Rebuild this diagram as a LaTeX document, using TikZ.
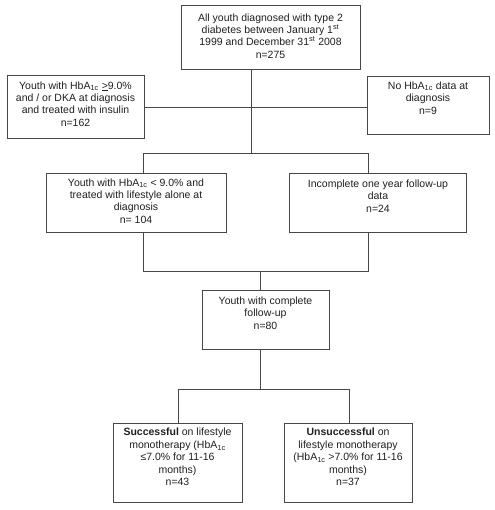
\documentclass[tikz,border=0pt]{standalone}
\usepackage{fontspec}
\setmainfont{Liberation Sans}
\begin{document}
\begin{tikzpicture}[x=1pt,y=-1pt,
  box/.style={draw=black!72,line width=0.9pt,rectangle,inner sep=0pt},
  txt/.style={align=center,inner sep=0pt,text=black!88,font=\fontsize{10.5}{12.4}\selectfont},
  conn/.style={draw=black!72,line width=0.9pt}]
\useasboundingbox (0,0) rectangle (494,510);
% boxes
\node[box,minimum width=179pt,minimum height=64pt] (top) at (270.5,37) {};
\node[txt] (topt) at (270.5,36) {All youth diagnosed with type 2\\diabetes between January 1\textsuperscript{st}\\1999 and December 31\textsuperscript{st} 2008\\n=275};
\node[box,minimum width=137pt,minimum height=63pt] (l1) at (75.5,106.5) {};
\node[txt] (l1t) at (75.5,104) {Youth with HbA\textsubscript{1c} \underline{>}9.0\%\\and / or DKA at diagnosis\\and treated with insulin\\n=162};
\node[box,minimum width=122pt,minimum height=58pt] (r1) at (428,105) {};
\node[txt] (r1t) at (428,98) {No HbA\textsubscript{1c} data at\\diagnosis\\n=9};
\node[box,minimum width=180pt,minimum height=59pt] (ml) at (136,202.5) {};
\node[txt] (mlt) at (136,201) {Youth with HbA\textsubscript{1c} < 9.0\% and\\treated with lifestyle alone at\\diagnosis\\n= 104};
\node[box,minimum width=177pt,minimum height=59pt] (mr) at (378,202.5) {};
\node[txt] (mrt) at (378,196) {Incomplete one year follow-up\\data\\n=24};
\node[box,minimum width=127pt,minimum height=59pt] (f) at (265.5,319.5) {};
\node[txt] (ft) at (265.5,313) {Youth with complete\\follow-up\\n=80};
\node[box,minimum width=129pt,minimum height=79pt] (bl) at (177.5,462.5) {};
\node[txt] (blt) at (177.5,457) {\textbf{Successful} on lifestyle\\monotherapy (HbA\textsubscript{1c}\\≤7.0\% for 11-16\\months)\\n=43};
\node[box,minimum width=128pt,minimum height=79pt] (br) at (348,462.5) {};
\node[txt] (brt) at (348,457) {\textbf{Unsuccessful} on\\lifestyle monotherapy\\(HbA\textsubscript{1c} >7.0\% for 11-16\\months)\\n=37};
% junction coordinates
\coordinate (j1) at (251,107);
\coordinate (j2) at (251,153);
\coordinate (a1) at (143,153);
\coordinate (a2) at (368,153);
\coordinate (b1) at (143,271);
\coordinate (b2) at (368,271);
\coordinate (bm) at (260.5,271);
\coordinate (c0) at (260.5,389);
\coordinate (c1) at (178,389);
\coordinate (c2) at (349,389);
% connectors
\draw[conn] (top.south -| j1) -- (j2);
\draw[conn] (l1.east |- j1) -- (r1.west |- j1);
\draw[conn] (ml.north -| a1) -- (a1) -- (a2) -- (mr.north -| a2);
\draw[conn] (ml.south -| b1) -- (b1) -- (b2) -- (mr.south -| b2);
\draw[conn] (bm) -- (f.north -| bm);
\draw[conn] (f.south -| c0) -- (c0);
\draw[conn] (bl.north -| c1) -- (c1) -- (c2) -- (br.north -| c2);
\end{tikzpicture}
\end{document}
